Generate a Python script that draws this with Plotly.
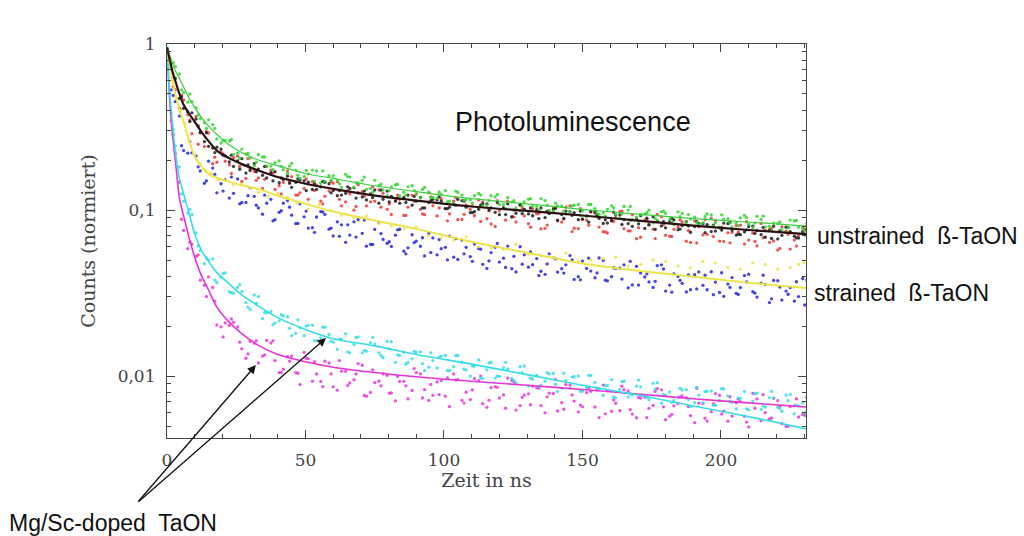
import math
import plotly.graph_objects as go

# ---------------------------------------------------------------
# Time-resolved photoluminescence decays (normalised counts)
# ---------------------------------------------------------------

# sampling times of the measured points (ns); three interleaved sweeps
T_SCATTER = list(range(0, 232, 3))
T_SCATTER_B = [1.5 + 3 * k for k in range(77)]
T_SCATTER_C = [2.25 + 3 * k for k in range(77)]

GREEN_PTS = [0.92, 0.73, 0.51, 0.45, 0.355, 0.349, 0.268, 0.263, 0.216, 0.233,
             0.206, 0.216, 0.184, 0.193, 0.175, 0.191, 0.155, 0.165, 0.172, 0.149,
             0.161, 0.137, 0.158, 0.145, 0.133, 0.151, 0.132, 0.138, 0.122, 0.138,
             0.125, 0.137, 0.119, 0.124, 0.113, 0.128, 0.116, 0.122, 0.106, 0.122,
             0.108, 0.119, 0.103, 0.112, 0.105, 0.117, 0.0996, 0.106, 0.0946, 0.107,
             0.099, 0.108, 0.0937, 0.101, 0.0939, 0.105, 0.0874, 0.0941, 0.0998, 0.087,
             0.0954, 0.0817, 0.0954, 0.0883, 0.0821, 0.0947, 0.0836, 0.0882, 0.079, 0.0896,
             0.0822, 0.0916, 0.0791, 0.0834, 0.0763, 0.087, 0.079, 0.0832]
GREEN_PTS_B = [0.76, 0.66, 0.446, 0.412, 0.336, 0.327, 0.253, 0.260, 0.22, 0.218,
               0.185, 0.209, 0.184, 0.198, 0.166, 0.174, 0.159, 0.174, 0.145, 0.161,
               0.15, 0.164, 0.137, 0.151, 0.135, 0.140, 0.122, 0.142, 0.128, 0.140,
               0.119, 0.128, 0.118, 0.131, 0.110, 0.123, 0.115, 0.126, 0.107, 0.12,
               0.108, 0.112, 0.099, 0.116, 0.105, 0.114, 0.0987, 0.106, 0.0979, 0.108,
               0.091, 0.102, 0.0961, 0.106, 0.0896, 0.100, 0.0907, 0.0946, 0.0836, 0.0976,
               0.0885, 0.0976, 0.0842, 0.0905, 0.0836, 0.0935, 0.079, 0.0888, 0.0839, 0.0927,
               0.0784, 0.0878, 0.0797, 0.0831, 0.0734, 0.0859, 0.0779]
GREEN_PTS_C = [0.77, 0.53, 0.50, 0.373, 0.31, 0.31, 0.262, 0.266, 0.205, 0.219,
               0.194, 0.209, 0.175, 0.183, 0.184, 0.162, 0.173, 0.149, 0.172, 0.151,
               0.144, 0.159, 0.146, 0.158, 0.128, 0.143, 0.131, 0.143, 0.123, 0.131,
               0.133, 0.119, 0.128, 0.112, 0.130, 0.114, 0.11, 0.123, 0.114, 0.124,
               0.102, 0.114, 0.106, 0.117, 0.0995, 0.107, 0.110, 0.0988, 0.106, 0.0929,
               0.108, 0.0958, 0.092, 0.103, 0.0951, 0.105, 0.0858, 0.0963, 0.089, 0.0983,
               0.0846, 0.0911, 0.0939, 0.0841, 0.0914, 0.0803, 0.0936, 0.0835, 0.0804, 0.09,
               0.0834, 0.0919, 0.0753, 0.0847, 0.0782, 0.0865, 0.0745]

BLACK_PTS = [0.93, 0.62, 0.41, 0.385, 0.294, 0.242, 0.239, 0.212, 0.183, 0.204,
             0.173, 0.176, 0.156, 0.170, 0.153, 0.137, 0.152, 0.147, 0.133, 0.147,
             0.131, 0.123, 0.135, 0.127, 0.115, 0.132, 0.116, 0.121, 0.110, 0.123,
             0.113, 0.103, 0.116, 0.113, 0.104, 0.116, 0.104, 0.0977, 0.109, 0.103,
             0.0938, 0.109, 0.0958, 0.101, 0.0924, 0.103, 0.0954, 0.0869, 0.0984, 0.0964,
             0.0881, 0.0981, 0.089, 0.0835, 0.0932, 0.0877, 0.0798, 0.0926, 0.0813, 0.0856,
             0.0781, 0.0872, 0.0807, 0.0735, 0.0832, 0.0817, 0.0747, 0.0834, 0.0757, 0.0711,
             0.0796, 0.0752, 0.0686, 0.0799, 0.0704, 0.0742, 0.0678, 0.0758]
BLACK_PTS_B = [0.76, 0.47, 0.39, 0.353, 0.258, 0.236, 0.233, 0.195, 0.198, 0.167,
               0.19, 0.162, 0.168, 0.146, 0.16, 0.147, 0.15, 0.133, 0.138, 0.144,
               0.122, 0.126, 0.136, 0.12, 0.125, 0.11, 0.13, 0.113, 0.119, 0.107,
               0.119, 0.111, 0.115, 0.102, 0.108, 0.114, 0.0966, 0.101, 0.109, 0.0969,
               0.103, 0.091, 0.107, 0.0947, 0.1007, 0.0901, 0.1008, 0.094, 0.0979, 0.0875,
               0.0922, 0.0976, 0.0831, 0.0866, 0.0935, 0.0828, 0.0879, 0.0775, 0.091, 0.0802,
               0.0852, 0.0762, 0.0852, 0.0796, 0.0828, 0.0742, 0.0782, 0.0829, 0.0707, 0.0738,
               0.08, 0.0712, 0.0758, 0.067, 0.0788, 0.0695, 0.074]
BLACK_PTS_C = [0.63, 0.48, 0.341, 0.321, 0.292, 0.222, 0.214, 0.214, 0.176, 0.187,
               0.17, 0.183, 0.15, 0.156, 0.145, 0.154, 0.131, 0.144, 0.149, 0.127,
               0.131, 0.138, 0.118, 0.13, 0.119, 0.132, 0.112, 0.118, 0.111, 0.121,
               0.103, 0.114, 0.12, 0.102, 0.107, 0.113, 0.0966, 0.107, 0.0999, 0.111,
               0.0939, 0.100, 0.0952, 0.103, 0.0888, 0.0986, 0.103, 0.0891, 0.0929, 0.0985,
               0.0845, 0.0937, 0.0873, 0.097, 0.0818, 0.087, 0.0826, 0.0893, 0.0765, 0.085,
               0.0891, 0.0768, 0.0802, 0.085, 0.0731, 0.0812, 0.0758, 0.0844, 0.0713, 0.076,
               0.0724, 0.0785, 0.0675, 0.075, 0.0787, 0.068, 0.071]

RED_PTS = [0.92, 0.53, 0.46, 0.288, 0.291, 0.291, 0.194, 0.197, 0.207, 0.149,
           0.178, 0.156, 0.183, 0.133, 0.147, 0.159, 0.127, 0.116, 0.141, 0.121,
           0.145, 0.106, 0.125, 0.142, 0.106, 0.113, 0.126, 0.094, 0.116, 0.104,
           0.125, 0.0938, 0.106, 0.117, 0.0948, 0.0875, 0.107, 0.0924, 0.112, 0.0824,
           0.0989, 0.113, 0.0848, 0.0921, 0.102, 0.077, 0.0954, 0.086, 0.104, 0.0777,
           0.0881, 0.0972, 0.079, 0.0727, 0.0897, 0.0772, 0.0936, 0.0686, 0.0822, 0.094,
           0.0706, 0.0765, 0.0848, 0.0638, 0.0792, 0.0714, 0.0865, 0.0647, 0.0733, 0.0811,
           0.0659, 0.0609, 0.0753, 0.0651, 0.0792, 0.0582, 0.0699, 0.0801]
RED_PTS_B = [0.71, 0.41, 0.374, 0.366, 0.241, 0.19, 0.224, 0.187, 0.211, 0.155,
             0.171, 0.135, 0.174, 0.14, 0.172, 0.123, 0.135, 0.148, 0.113, 0.13,
             0.148, 0.112, 0.0998, 0.129, 0.112, 0.132, 0.101, 0.114, 0.0928, 0.123,
             0.101, 0.127, 0.0921, 0.102, 0.113, 0.0877, 0.101, 0.115, 0.0886, 0.0796,
             0.103, 0.091, 0.108, 0.0828, 0.0949, 0.0775, 0.103, 0.0846, 0.106, 0.0773,
             0.0867, 0.0958, 0.074, 0.0857, 0.0979, 0.075, 0.0672, 0.0869, 0.0767, 0.091,
             0.0695, 0.0794, 0.0649, 0.086, 0.0708, 0.0892, 0.0649, 0.0729, 0.0806, 0.0624,
             0.0725, 0.0831, 0.0639, 0.0574, 0.0745, 0.0659, 0.0783]
RED_PTS_C = [0.554, 0.492, 0.349, 0.249, 0.297, 0.208, 0.218, 0.166, 0.183, 0.204,
             0.151, 0.153, 0.167, 0.125, 0.148, 0.123, 0.154, 0.131, 0.109, 0.149,
             0.116, 0.131, 0.105, 0.121, 0.138, 0.104, 0.109, 0.123, 0.0928, 0.113,
             0.0949, 0.12, 0.103, 0.0861, 0.119, 0.0942, 0.106, 0.0853, 0.0989, 0.114,
             0.0869, 0.091, 0.103, 0.0788, 0.0956, 0.0812, 0.102, 0.0882, 0.0741, 0.102,
             0.0809, 0.0919, 0.0738, 0.0854, 0.0986, 0.0748, 0.0783, 0.0884, 0.0673, 0.0816,
             0.0693, 0.0874, 0.0753, 0.0634, 0.0875, 0.0693, 0.0789, 0.0635, 0.0736, 0.0851,
             0.0648, 0.0681, 0.0772, 0.0588, 0.0714, 0.0607, 0.0767]

BLUE_PTS = [0.87, 0.45, 0.228, 0.221, 0.172, 0.197, 0.127, 0.152, 0.126, 0.111,
            0.136, 0.103, 0.110, 0.0874, 0.110, 0.0931, 0.109, 0.0779, 0.0908, 0.0939,
            0.0698, 0.0814, 0.0707, 0.0875, 0.0606, 0.0764, 0.0665, 0.0604, 0.0766, 0.0592,
            0.065, 0.0529, 0.0679, 0.0585, 0.0696, 0.0504, 0.0596, 0.0625, 0.0471, 0.0554,
            0.0486, 0.0607, 0.0424, 0.0537, 0.0469, 0.0428, 0.0545, 0.0423, 0.0468, 0.0382,
            0.0493, 0.0429, 0.0514, 0.0374, 0.0445, 0.0468, 0.0354, 0.0418, 0.0369, 0.0463,
            0.0325, 0.0413, 0.0362, 0.0331, 0.0424, 0.0331, 0.0368, 0.0302, 0.0392, 0.0341,
            0.0411, 0.0299, 0.0357, 0.0377, 0.0287, 0.0341, 0.0301, 0.0379]
BLUE_PTS_B = [0.53, 0.368, 0.22, 0.212, 0.145, 0.179, 0.144, 0.118, 0.154, 0.111,
              0.121, 0.0944, 0.116, 0.0969, 0.114, 0.0829, 0.091, 0.0783, 0.0979, 0.0767,
              0.0849, 0.0639, 0.0849, 0.0724, 0.0621, 0.0841, 0.0631, 0.0706, 0.0565, 0.071,
              0.0605, 0.0723, 0.0537, 0.0596, 0.052, 0.0659, 0.0524, 0.0586, 0.0445, 0.0597,
              0.0513, 0.0443, 0.0602, 0.0453, 0.051, 0.041, 0.0517, 0.0443, 0.0532, 0.0397,
              0.0445, 0.0391, 0.0498, 0.0397, 0.0446, 0.034, 0.0458, 0.0395, 0.0342, 0.0468,
              0.0353, 0.0398, 0.0321, 0.0408, 0.0352, 0.0425, 0.0319, 0.0358, 0.0315, 0.0403,
              0.0322, 0.0363, 0.0277, 0.0375, 0.0325, 0.0283, 0.0387]
BLUE_PTS_C = [0.49, 0.244, 0.259, 0.182, 0.15, 0.164, 0.13, 0.158, 0.109, 0.122,
              0.107, 0.123, 0.0861, 0.099, 0.104, 0.0831, 0.0985, 0.0734, 0.0973, 0.0779,
              0.0694, 0.0815, 0.0687, 0.087, 0.062, 0.0721, 0.0644, 0.076, 0.0545, 0.0637,
              0.0681, 0.0554, 0.0664, 0.0501, 0.0673, 0.0545, 0.0491, 0.0581, 0.0494, 0.0629,
              0.0451, 0.0526, 0.0472, 0.0559, 0.0403, 0.0473, 0.0508, 0.0417, 0.0501, 0.038,
              0.0513, 0.0418, 0.0378, 0.0449, 0.0384, 0.0491, 0.0353, 0.0413, 0.0372, 0.0442,
              0.032, 0.0377, 0.0407, 0.0335, 0.0405, 0.0309, 0.0419, 0.0342, 0.031, 0.0369,
              0.0316, 0.0405, 0.0292, 0.0344, 0.0311, 0.037, 0.0268]

CYAN_PTS = [0.95, 0.243, 0.113, 0.0938, 0.057, 0.050, 0.0365, 0.0418, 0.0315, 0.0323,
            0.0252, 0.0301, 0.024, 0.0209, 0.023, 0.0175, 0.0196, 0.0202, 0.0163, 0.0197,
            0.016, 0.0166, 0.0138, 0.0172, 0.0141, 0.0156, 0.0129, 0.0161, 0.0133, 0.0121,
            0.0139, 0.0108, 0.0124, 0.0132, 0.0108, 0.0133, 0.0109, 0.0115, 0.00966, 0.0121,
            0.00995, 0.011, 0.00908, 0.0115, 0.0096, 0.00883, 0.0103, 0.00808, 0.0094, 0.00994,
            0.0081, 0.0101, 0.00836, 0.00877, 0.0074, 0.00932, 0.00772, 0.00861, 0.00721, 0.00912,
            0.00766, 0.0071, 0.00824, 0.00654, 0.00768, 0.0081, 0.00666, 0.00836, 0.00694, 0.00734,
            0.00626, 0.00788, 0.00651, 0.00735, 0.00614, 0.00775, 0.0066, 0.0061]
CYAN_PTS_B = [0.386, 0.182, 0.096, 0.0728, 0.0475, 0.0508, 0.0394, 0.0321, 0.0342, 0.0277,
              0.0308, 0.0222, 0.0245, 0.0215, 0.0228, 0.0181, 0.0175, 0.0202, 0.017, 0.0178,
              0.0145, 0.018, 0.0155, 0.0138, 0.0159, 0.0138, 0.0162, 0.0121, 0.0139, 0.0127,
              0.014, 0.0113, 0.0112, 0.0133, 0.0114, 0.0121, 0.01, 0.0125, 0.0109, 0.00972,
              0.0112, 0.00968, 0.0114, 0.0087, 0.0101, 0.00931, 0.0104, 0.00846, 0.00846, 0.01,
              0.00854, 0.00915, 0.00766, 0.00952, 0.00832, 0.00747, 0.00869, 0.00761, 0.00904, 0.00687,
              0.00803, 0.00747, 0.00828, 0.00692, 0.0069, 0.00814, 0.0071, 0.00759, 0.00634, 0.00806,
              0.00703, 0.0063, 0.00742, 0.00649, 0.00768, 0.00592, 0.0069]
CYAN_PTS_C = [0.307, 0.125, 0.101, 0.0608, 0.0515, 0.0378, 0.0415, 0.0318, 0.0355, 0.026,
              0.0275, 0.0242, 0.0204, 0.0234, 0.0194, 0.0218, 0.02, 0.0163, 0.0197, 0.0162,
              0.0167, 0.014, 0.0171, 0.0143, 0.0171, 0.0133, 0.0146, 0.0134, 0.0118, 0.0141,
              0.0119, 0.0138, 0.013, 0.0108, 0.0133, 0.011, 0.0115, 0.00974, 0.012, 0.01,
              0.0121, 0.00937, 0.0105, 0.0097, 0.00862, 0.0105, 0.00893, 0.0104, 0.00986, 0.0081,
              0.0101, 0.00846, 0.00879, 0.00748, 0.00927, 0.00781, 0.00946, 0.00746, 0.00834, 0.00776,
              0.00695, 0.00842, 0.00724, 0.00855, 0.00806, 0.00668, 0.0084, 0.00703, 0.00737, 0.00635,
              0.00785, 0.0066, 0.00809, 0.00637, 0.00711, 0.00669, 0.00598]

MAGENTA_PTS = [0.94, 0.219, 0.0754, 0.0624, 0.0378, 0.0396, 0.0203, 0.0209, 0.0211, 0.0146,
               0.0162, 0.012, 0.0164, 0.0124, 0.011, 0.0132, 0.00889, 0.0127, 0.0103, 0.0123,
               0.00861, 0.0107, 0.00909, 0.0119, 0.00757, 0.00912, 0.0103, 0.00791, 0.00929, 0.00728,
               0.0105, 0.00828, 0.00766, 0.0094, 0.00654, 0.00952, 0.00799, 0.00966, 0.00681, 0.00853,
               0.00738, 0.00972, 0.00624, 0.00768, 0.00869, 0.00663, 0.00788, 0.00616, 0.00889, 0.00707,
               0.00653, 0.0081, 0.00562, 0.00818, 0.00686, 0.00828, 0.0059, 0.00738, 0.00639, 0.0084,
               0.00546, 0.00662, 0.00759, 0.00578, 0.00687, 0.00536, 0.00784, 0.00614, 0.00574, 0.00702,
               0.00494, 0.00728, 0.00602, 0.00736, 0.00517, 0.00655, 0.00567, 0.00744]
MAGENTA_PTS_B = [0.344, 0.147, 0.0585, 0.0525, 0.0352, 0.0342, 0.0198, 0.0202, 0.0198, 0.0128,
                 0.0158, 0.0132, 0.0158, 0.0105, 0.0131, 0.0105, 0.0139, 0.00932, 0.00929, 0.012,
                 0.00822, 0.0107, 0.0095, 0.0116, 0.00797, 0.00931, 0.0101, 0.00708, 0.00928, 0.00819,
                 0.0103, 0.00713, 0.00922, 0.00757, 0.0103, 0.00714, 0.00722, 0.00938, 0.00648, 0.00861,
                 0.0077, 0.00944, 0.00664, 0.00782, 0.0085, 0.00601, 0.00785, 0.00692, 0.00882, 0.00608,
                 0.00795, 0.00651, 0.00883, 0.00613, 0.00619, 0.00814, 0.00561, 0.00746, 0.00665, 0.00826,
                 0.00573, 0.00683, 0.00741, 0.00524, 0.00683, 0.0061, 0.00766, 0.00535, 0.00689, 0.00572,
                 0.00787, 0.00538, 0.0055, 0.00712, 0.00498, 0.00662, 0.00589]
MAGENTA_PTS_C = [0.286, 0.088, 0.064, 0.0536, 0.0301, 0.0283, 0.0172, 0.0221, 0.016, 0.0136,
                 0.0163, 0.0134, 0.0163, 0.0105, 0.0123, 0.0104, 0.0128, 0.0122, 0.00864, 0.0103,
                 0.0124, 0.00877, 0.0103, 0.00764, 0.0109, 0.00874, 0.0079, 0.00995, 0.00874, 0.0111,
                 0.00738, 0.0089, 0.00774, 0.00974, 0.00946, 0.00688, 0.00825, 0.01, 0.00714, 0.00855,
                 0.0064, 0.00923, 0.00745, 0.00672, 0.00845, 0.0075, 0.00952, 0.00631, 0.0077, 0.00669,
                 0.00851, 0.00825, 0.00592, 0.00718, 0.00869, 0.00628, 0.00742, 0.00562, 0.00809, 0.00653,
                 0.00588, 0.00749, 0.00656, 0.00842, 0.00558, 0.0068, 0.0059, 0.0075, 0.00726, 0.00528,
                 0.0064, 0.00774, 0.00559, 0.00659, 0.00499, 0.0073, 0.0058]

# yellow data set is recorded more sparsely
T_YELLOW = [2, 5, 8, 12, 16, 21, 27, 33, 40, 47, 55, 63, 72, 81, 90, 99, 108, 117,
            126, 135, 144, 153, 162, 171, 180, 189, 198, 207, 216, 225, 230]
YELLOW_PTS = [0.60, 0.40, 0.26, 0.19, 0.168, 0.150, 0.145, 0.128, 0.126, 0.110, 0.108,
              0.093, 0.092, 0.080, 0.079, 0.068, 0.069, 0.059, 0.062, 0.053, 0.055,
              0.050, 0.052, 0.047, 0.049, 0.045, 0.048, 0.044, 0.047, 0.045, 0.048]
T_YELLOW_B = [3.5, 6.5, 10, 14, 18.5, 24, 30, 36.5, 43.5, 51, 59, 67.5, 76.5, 85.5, 94.5,
              103.5, 112.5, 121.5, 130.5, 139.5, 148.5, 157.5, 166.5, 175.5, 184.5, 193.5,
              202.5, 211.5, 220.5, 228]
YELLOW_PTS_B = [0.47, 0.33, 0.215, 0.172, 0.152, 0.142, 0.136, 0.121, 0.119, 0.101, 0.099,
                0.090, 0.083, 0.077, 0.070, 0.066, 0.060, 0.058, 0.054, 0.052, 0.049, 0.051,
                0.046, 0.050, 0.046, 0.049, 0.045, 0.048, 0.044, 0.047]

# fitted decay curves
T_FIT = [0, 1, 2, 3, 4.5, 6, 8, 10, 12.5, 15, 18, 22, 27, 33, 40, 50, 60, 75,
         90, 110, 130, 150, 170, 190, 210, 231]
GREEN_FIT = [0.95, 0.85, 0.77, 0.69, 0.62, 0.55, 0.47, 0.415, 0.36, 0.32, 0.285, 0.25,
             0.222, 0.20, 0.185, 0.166, 0.155, 0.140, 0.129, 0.117, 0.109, 0.101,
             0.0945, 0.0888, 0.0847, 0.080]
BLACK_FIT = [0.95, 0.80, 0.68, 0.60, 0.50, 0.43, 0.38, 0.34, 0.295, 0.26, 0.228, 0.207,
             0.189, 0.173, 0.158, 0.144, 0.134, 0.122, 0.114, 0.105, 0.0988, 0.0927,
             0.0864, 0.0805, 0.0758, 0.0715]
YELLOW_FIT = [0.92, 0.75, 0.60, 0.50, 0.40, 0.34, 0.26, 0.21, 0.182, 0.165, 0.156, 0.149,
              0.141, 0.134, 0.122, 0.109, 0.098, 0.0865, 0.077, 0.0645, 0.0553, 0.0477,
              0.0431, 0.0396, 0.0365, 0.0339]
CYAN_FIT = [0.95, 0.50, 0.33, 0.225, 0.155, 0.125, 0.095, 0.072, 0.057, 0.049, 0.042,
            0.0365, 0.0308, 0.0264, 0.0225, 0.0191, 0.0168, 0.0152, 0.0135, 0.0118,
            0.0102, 0.0088, 0.0077, 0.0066, 0.0057, 0.0048]
MAGENTA_FIT = [0.95, 0.45, 0.28, 0.20, 0.118, 0.092, 0.068, 0.052, 0.040, 0.033, 0.026,
               0.0215, 0.018, 0.0153, 0.0135, 0.0122, 0.0113, 0.0105, 0.0099, 0.0093,
               0.0088, 0.0083, 0.0078, 0.0073, 0.0069, 0.0065]

X_TICKS = [0, 50, 100, 150, 200]
Y_TICKS = [0.01, 0.1, 1]
Y_TICK_TEXT = ["0,01", "0,1", "1"]

# arrow targets (time in ns, counts)
ARROW_HEADS = [(32.1, 0.01165), (57.4, 0.01694)]

GREEN = "#2fd62f"
RED = "#ec3a3a"
BLACK = "#1a1a1a"
BLUE = "#2323d8"
YELLOW = "#ece44c"
CYAN = "#36dde6"
MAGENTA = "#e535d8"

SERIF = "DejaVu Serif, serif"
SANS = "Liberation Sans, Arial, sans-serif"

fig = go.Figure()


def dots(x, y, color, size=3.3, opacity=0.85):
    fig.add_trace(go.Scatter(x=x, y=y, mode="markers", showlegend=False,
                             hoverinfo="skip",
                             marker=dict(size=size, color=color, opacity=opacity,
                                         line=dict(width=0))))


def curve(x, y, color, width=1.6):
    fig.add_trace(go.Scatter(x=x, y=y, mode="lines", showlegend=False,
                             hoverinfo="skip",
                             line=dict(color=color, width=width, shape="spline",
                                       smoothing=0.8)))


for pts, pts_b, pts_c, color in [
    (MAGENTA_PTS, MAGENTA_PTS_B, MAGENTA_PTS_C, MAGENTA),
    (CYAN_PTS, CYAN_PTS_B, CYAN_PTS_C, CYAN),
    (BLUE_PTS, BLUE_PTS_B, BLUE_PTS_C, BLUE),
]:
    dots(T_SCATTER, pts, color)
    dots(T_SCATTER_B, pts_b, color)
    dots(T_SCATTER_C, pts_c, color)

dots(T_YELLOW, YELLOW_PTS, YELLOW)
dots(T_YELLOW_B, YELLOW_PTS_B, YELLOW)

for pts, pts_b, pts_c, color in [
    (RED_PTS, RED_PTS_B, RED_PTS_C, RED),
    (BLACK_PTS, BLACK_PTS_B, BLACK_PTS_C, BLACK),
    (GREEN_PTS, GREEN_PTS_B, GREEN_PTS_C, GREEN),
]:
    dots(T_SCATTER, pts, color)
    dots(T_SCATTER_B, pts_b, color)
    dots(T_SCATTER_C, pts_c, color)

curve(T_FIT, MAGENTA_FIT, MAGENTA)
curve(T_FIT, CYAN_FIT, CYAN)
curve(T_FIT, YELLOW_FIT, YELLOW, 2)
curve(T_FIT, GREEN_FIT, "#3ccf3c", 1.2)
curve(T_FIT, BLACK_FIT, "#2a1010", 2.2)

minor_y = [m * 10 ** e for e in (-3, -2, -1) for m in range(2, 10)]

axis_common = dict(showline=True, linecolor="#444", linewidth=1.2, mirror="allticks",
                   ticks="inside", ticklen=8, tickcolor="#444", tickwidth=1.2,
                   showgrid=False, zeroline=False,
                   tickfont=dict(family=SERIF, size=17, color="#444"))

fig.update_xaxes(range=[0, 230.7], tickvals=X_TICKS,
                 minor=dict(dtick=10, ticks="inside", ticklen=4, tickcolor="#444",
                            showgrid=False),
                 title=dict(text="Zeit in ns", font=dict(family=SERIF, size=19, color="#444"),
                            standoff=5),
                 ticklabelstandoff=6,
                 **axis_common)
fig.update_yaxes(type="log", range=[-2.373, 0], tickvals=Y_TICKS, ticktext=Y_TICK_TEXT,
                 minor=dict(tickvals=minor_y, ticks="inside", ticklen=4, tickcolor="#444",
                            showgrid=False),
                 title=dict(text="Counts (normiert)",
                            font=dict(family=SERIF, size=19, color="#444"), standoff=16),
                 ticklabelstandoff=7,
                 **axis_common)

fig.update_layout(
    width=1024, height=536,
    margin=dict(l=167, r=218, t=44, b=98),
    paper_bgcolor="white", plot_bgcolor="white",
    showlegend=False,
)

# free-standing labels positioned in paper coordinates
plot_w = 1024 - 167 - 218
plot_h = 536 - 44 - 98


def px_to_paper(px, py):
    return (px - 167) / plot_w, (536 - 98 - py) / plot_h


labels = [
    ("Photoluminescence", 573, 122, 27, "center"),
    ("unstrained  ß-TaON", 815, 236, 23, "left"),
    ("strained  ß-TaON", 812, 293, 23, "left"),
    ("Mg/Sc-doped  TaON", 7, 523, 23, "left"),
]
for text, px, py, size, align in labels:
    xp, yp = px_to_paper(px, py)
    fig.add_annotation(text=text, x=xp, y=yp, xref="paper", yref="paper",
                       xanchor=align, yanchor="middle", showarrow=False,
                       font=dict(family=SANS, size=size, color="#111"))

# arrows pointing at the two doped samples
tail_px = (137, 503)
for t, v in ARROW_HEADS:
    head_px = 167 + t * plot_w / 230.7
    head_py = 44 - math.log10(v) * plot_h / 2.373
    fig.add_annotation(x=t, y=math.log10(v), xref="x", yref="y",
                       ax=tail_px[0] - head_px, ay=tail_px[1] - head_py,
                       showarrow=True, arrowhead=2, arrowsize=1.3, arrowwidth=1.3,
                       arrowcolor="#111", text="")

fig.write_html("out.html")
